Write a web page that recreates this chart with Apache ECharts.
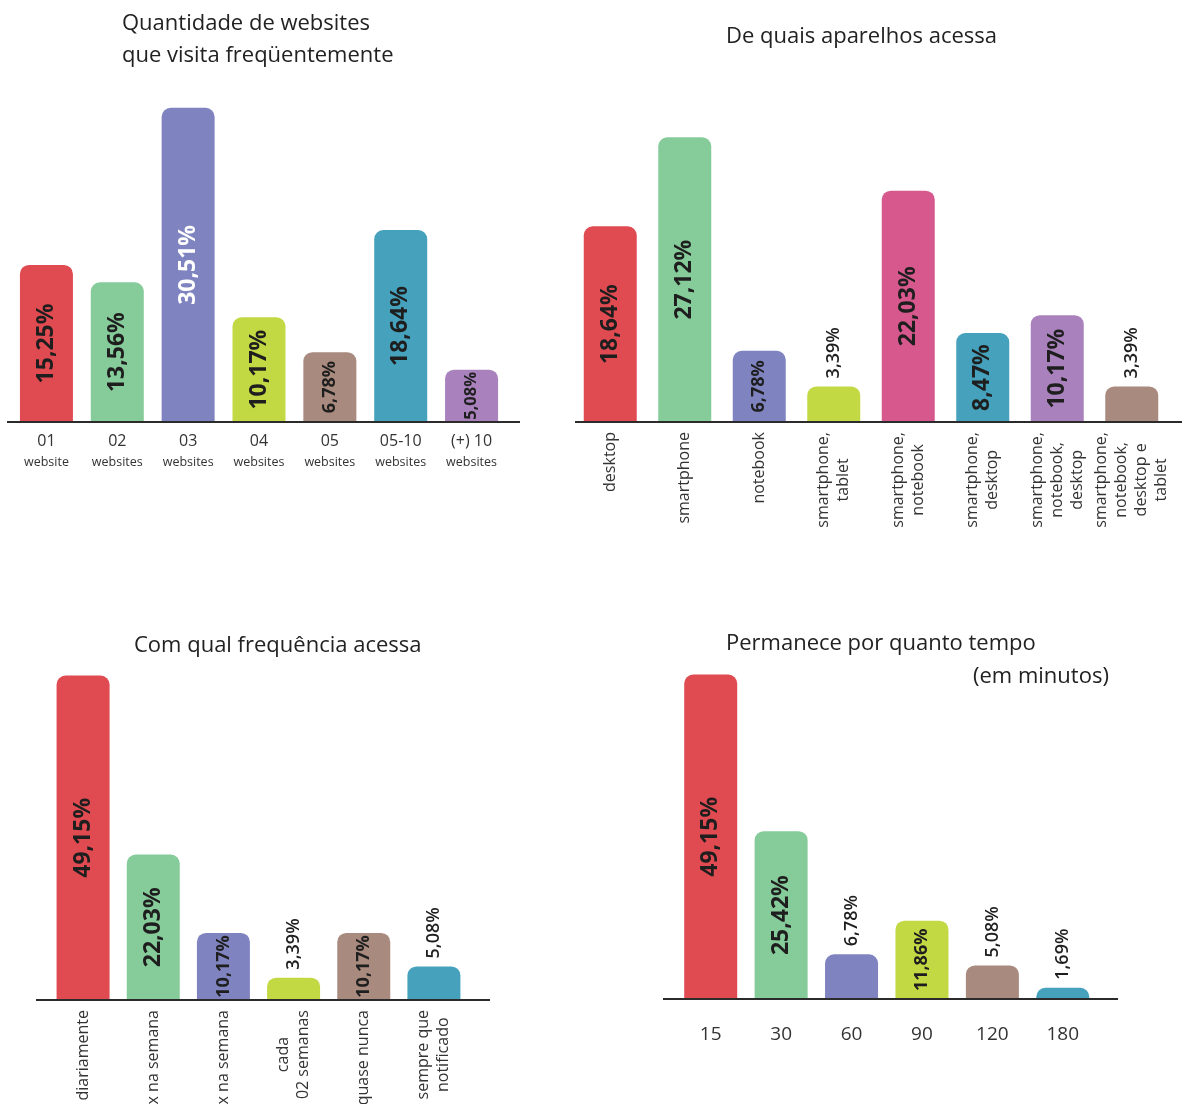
<!DOCTYPE html>
<html>
<head>
<meta charset="utf-8">
<script src="https://cdn.jsdelivr.net/npm/echarts@6/dist/echarts.min.js"></script>
<style>
html,body{margin:0;padding:0;background:#fff}
#chart{width:1186px;height:1104px}
</style>
</head>
<body>
<div id="chart"></div>
<script>
// ---- data ----
const websitesCategories = ['01\nwebsite', '02\nwebsites', '03\nwebsites', '04\nwebsites', '05\nwebsites', '05-10\nwebsites', '(+) 10\nwebsites'];
const websitesValues = [15.25, 13.56, 30.51, 10.17, 6.78, 18.64, 5.08];

const devicesCategories = ['desktop', 'smartphone', 'notebook', 'smartphone,\ntablet', 'smartphone,\nnotebook', 'smartphone,\ndesktop', 'smartphone,\nnotebook,\ndesktop', 'smartphone,\nnotebook,\ndesktop e\ntablet'];
const devicesValues = [18.64, 27.12, 6.78, 3.39, 22.03, 8.47, 10.17, 3.39];

const frequencyCategories = ['diariamente', 'x na semana', 'x na semana', 'cada\n02 semanas', 'quase nunca', 'sempre que\nnotificado'];
const frequencyValues = [49.15, 22.03, 10.17, 3.39, 10.17, 5.08];

const durationCategories = ['15', '30', '60', '90', '120', '180'];
const durationValues = [49.15, 25.42, 6.78, 11.86, 5.08, 1.69];

const titleTexts = ['Quantidade de websites\nque visita freqüentemente', 'De quais aparelhos acessa', 'Com qual frequência acessa', 'Permanece por quanto tempo', '(em minutos)'];

// ---- styling ----
const FONT = "'Open Sans', 'Noto Sans', sans-serif";
const COL = {
  red: '#E04B52', green: '#86CB9A', blue: '#7F84C0', lime: '#C2D944',
  brown: '#A98A7E', teal: '#45A1BC', purple: '#A981BD', pink: '#D6588D'
};

const panels = [
  { cats: websitesCategories, vals: websitesValues, max: 35,
    grid: { left: 11, top: 61.5, width: 496, height: 360.5 }, axisExt: [4, 13],
    colors: [COL.red, COL.green, COL.blue, COL.lime, COL.brown, COL.teal, COL.purple],
    tick: 'stack', light: [2] },
  { cats: devicesCategories, vals: devicesValues, max: 35,
    grid: { left: 573, top: 54.5, width: 596, height: 367.5 }, axisExt: [-2, 13],
    colors: [COL.red, COL.green, COL.blue, COL.lime, COL.pink, COL.teal, COL.purple, COL.brown],
    tick: 'rot', light: [] },
  { cats: frequencyCategories, vals: frequencyValues, max: 50,
    grid: { left: 48, top: 670, width: 421, height: 330 }, axisExt: [12, 21],
    colors: [COL.red, COL.green, COL.blue, COL.lime, COL.brown, COL.teal],
    tick: 'rot', light: [] },
  { cats: durationCategories, vals: durationValues, max: 50,
    grid: { left: 675.5, top: 669, width: 422.5, height: 330 }, axisExt: [12.5, 20],
    colors: [COL.red, COL.green, COL.blue, COL.lime, COL.brown, COL.teal],
    tick: 'plain', light: [] }
];

function fmt(v) { return v.toFixed(2).replace('.', ',') + '%'; }

function barLabel(v, px, light) {
  const base = { show: true, rotate: 90, fontFamily: FONT, fontWeight: 'bold', formatter: fmt(v) };
  if (px < 50) {
    return Object.assign(base, { position: 'top', align: 'left', verticalAlign: 'middle',
      distance: 8, fontSize: 18, color: '#1e1e1e', fontWeight: 600 });
  }
  const fs = px >= 85 ? 23 : (px >= 60 ? 18 : 16.5);
  return Object.assign(base, { position: 'inside', align: 'center', verticalAlign: 'middle',
    fontSize: fs, color: light ? '#ffffff' : '#1e1e1e' });
}

function axisLabelFor(kind) {
  if (kind === 'stack') {
    return {
      interval: 0, margin: 8, color: '#333', fontFamily: FONT,
      formatter: function (v) { const p = v.split('\n'); return '{n|' + p[0] + '}\n{s|' + p[1] + '}'; },
      rich: {
        n: { fontSize: 16, lineHeight: 22, color: '#333', fontFamily: FONT, align: 'center' },
        s: { fontSize: 12.5, lineHeight: 21, color: '#333', fontFamily: FONT, align: 'center' }
      }
    };
  }
  if (kind === 'rot') {
    return {
      interval: 0, rotate: 90, margin: 10, color: '#333', fontFamily: FONT,
      formatter: function (v) { return v.split('\n').map(function (l) { return '{c|' + l + '}'; }).join('\n'); },
      rich: { c: { fontSize: 16, lineHeight: 20, color: '#333', fontFamily: FONT, align: 'center' } }
    };
  }
  return { interval: 0, margin: 26, fontSize: 19, color: '#333', fontFamily: FONT };
}

const grids = [], xAxes = [], yAxes = [], series = [], graphics = [];
panels.forEach(function (p, i) {
  grids.push(Object.assign({ containLabel: false, outerBoundsMode: 'none' }, p.grid));
  xAxes.push({
    type: 'category', gridIndex: i, data: p.cats,
    axisLine: { show: false },
    axisTick: { show: false },
    axisLabel: axisLabelFor(p.tick),
    splitLine: { show: false }
  });
  yAxes.push({ type: 'value', gridIndex: i, min: 0, max: p.max, show: false, splitLine: { show: false } });
  const baseY = p.grid.top + p.grid.height;
  graphics.push({
    type: 'line', z: 10, silent: true,
    shape: { x1: p.grid.left - p.axisExt[0], y1: baseY, x2: p.grid.left + p.grid.width + p.axisExt[1], y2: baseY },
    style: { stroke: '#2b2b2b', lineWidth: 2 }
  });
  const pxPerUnit = p.grid.height / p.max;
  series.push({
    type: 'bar', xAxisIndex: i, yAxisIndex: i, barWidth: 53,
    data: p.vals.map(function (v, j) {
      return {
        value: v,
        itemStyle: { color: p.colors[j], borderRadius: [9, 9, 0, 0] },
        label: barLabel(v, v * pxPerUnit, p.light.indexOf(j) >= 0)
      };
    })
  });
});

const titleStyle = { fontFamily: FONT, fontSize: 22, fontWeight: 'normal', color: '#222', lineHeight: 32 };
const titles = [
  { text: titleTexts[0], left: 122, top: 8 },
  { text: titleTexts[1], left: 726, top: 21 },
  { text: titleTexts[2], left: 134, top: 630 },
  { text: titleTexts[3], left: 726, top: 628 },
  { text: titleTexts[4], left: 973, top: 661 }
].map(function (t) { return Object.assign(t, { padding: 0, textStyle: titleStyle }); });

const chart = echarts.init(document.getElementById('chart'), null, { renderer: 'canvas' });
chart.setOption({
  backgroundColor: '#ffffff',
  animation: false,
  title: titles,
  grid: grids,
  xAxis: xAxes,
  yAxis: yAxes,
  series: series,
  graphic: graphics
});
</script>
</body>
</html>
